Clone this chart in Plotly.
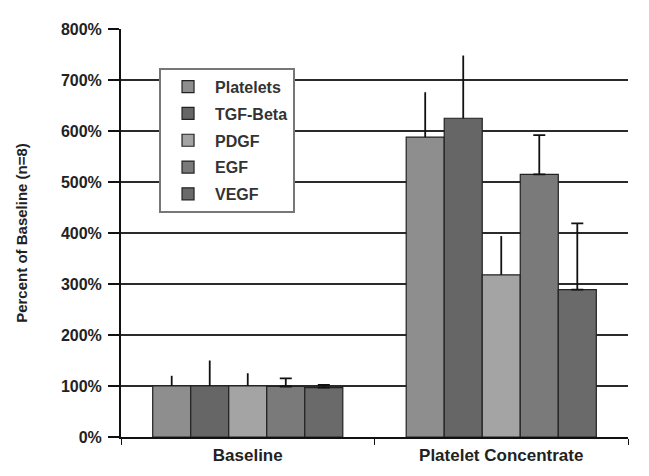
import plotly.graph_objects as go

categories = ["Baseline", "Platelet Concentrate"]
series_names = ["Platelets", "TGF-Beta", "PDGF", "EGF", "VEGF"]
values = {
    "Platelets": [100, 588],
    "TGF-Beta": [100, 625],
    "PDGF": [100, 318],
    "EGF": [99, 515],
    "VEGF": [97, 289],
}
errors_plus = {
    "Platelets": [20, 88],
    "TGF-Beta": [50, 123],
    "PDGF": [25, 76],
    "EGF": [16, 77],
    "VEGF": [5, 130],
}
y_ticks = [0, 100, 200, 300, 400, 500, 600, 700, 800]
y_tick_labels = ["0%", "100%", "200%", "300%", "400%", "500%", "600%", "700%", "800%"]

colors = {
    "Platelets": "#8e8e8e",
    "TGF-Beta": "#666666",
    "PDGF": "#a4a4a4",
    "EGF": "#7a7a7a",
    "VEGF": "#6a6a6a",
}
cap_widths = {"Platelets": 0, "TGF-Beta": 0, "PDGF": 0, "EGF": 6, "VEGF": 6}

font_family = "Liberation Sans, Arial, sans-serif"

fig = go.Figure()
for name in series_names:
    fig.add_trace(go.Bar(
        name=name,
        x=categories,
        y=values[name],
        legendgroup=name,
        marker=dict(color=colors[name], line=dict(color="#222222", width=1.2)),
        error_y=dict(type="data", symmetric=False, array=errors_plus[name],
                     arrayminus=[0, 0], color="#111111", thickness=1.8,
                     width=cap_widths[name]),
    ))

fig.update_layout(
    width=641, height=468,
    margin=dict(l=113, r=21, t=21, b=39),
    paper_bgcolor="white", plot_bgcolor="white",
    barmode="group", bargap=0.25, bargroupgap=0,
    font=dict(family=font_family, size=12, color="#222222"),
    showlegend=True,
    legend=dict(
        x=0.075, y=0.905, xanchor="left", yanchor="top",
        bgcolor="white", bordercolor="#777777", borderwidth=2,
        font=dict(family=font_family, size=16, color="#333333", weight="bold"),
        tracegroupgap=3,
        itemwidth=44,
        traceorder="grouped",
    ),
)
fig.update_xaxes(
    showline=True, linecolor="#111111", linewidth=1.5,
    ticks="outside", tickson="boundaries", ticklen=6, tickcolor="#111111",
    tickfont=dict(family=font_family, size=17, color="#222222", weight="bold"),
    ticklabelstandoff=2,
    showgrid=False,
)
fig.update_yaxes(
    range=[0, 800], tickvals=y_ticks, ticktext=y_tick_labels,
    showline=True, linecolor="#111111", linewidth=2,
    ticks="outside", ticklen=11, tickcolor="#111111", tickwidth=1.5,
    showgrid=True, gridcolor="#2a2a2a", gridwidth=1.5,
    zeroline=False,
    tickfont=dict(family=font_family, size=16, color="#222222", weight="bold"),
    ticklabelstandoff=3,
    title=dict(text="Percent of Baseline (n=8)", standoff=30,
               font=dict(family=font_family, size=15, color="#222222", weight="bold")),
)

fig.write_html("out.html")
